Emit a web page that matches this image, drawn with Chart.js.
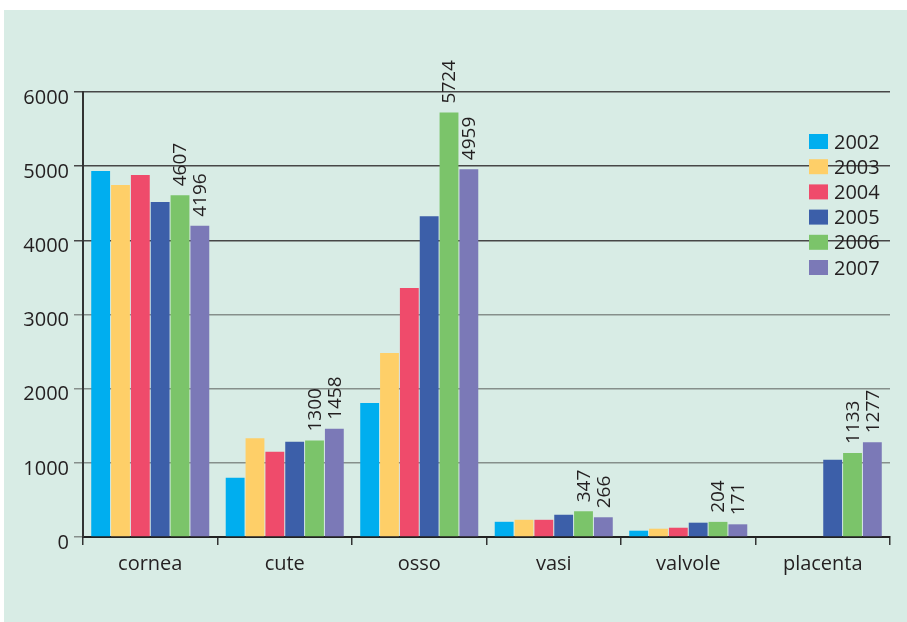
<!DOCTYPE html>
<html>
<head>
<meta charset="utf-8">
<script src="https://cdn.jsdelivr.net/npm/chart.js@4"></script>
<style>
  html, body { margin: 0; padding: 0; background: #fff; }
  #wrap { width: 907px; height: 622px; position: relative; }
</style>
</head>
<body>
<div id="wrap"><canvas id="chart"></canvas></div>
<script>
// categorie e serie
var categories = ["cornea", "cute", "osso", "vasi", "valvole", "placenta"];
var years = ["2002", "2003", "2004", "2005", "2006", "2007"];
var v2002 = [4935, 800, 1806, 205, 85, null];
var v2003 = [4746, 1330, 2480, 232, 112, null];
var v2004 = [4880, 1150, 3356, 232, 125, null];
var v2005 = [4517, 1285, 4326, 300, 193, 1040];
var v2006 = [4607, 1300, 5724, 347, 204, 1133];
var v2007 = [4196, 1458, 4959, 266, 171, 1277];
var yTicks = [0, 1000, 2000, 3000, 4000, 5000, 6000];
var colors = ["#00aeef", "#fecf68", "#ef4b6b", "#3c5fa9", "#7bc46a", "#7b79b7"];
var labelled = [4, 5]; // serie con etichette (2006, 2007)

var FONT = "'Open Sans', 'Noto Sans', sans-serif";
var TEXT = "#231f20";

var series = [v2002, v2003, v2004, v2005, v2006, v2007];

// sfondo
var bgPlugin = {
  id: "bg",
  beforeDraw: function (chart) {
    var ctx = chart.ctx;
    ctx.save();
    ctx.fillStyle = "#ffffff";
    ctx.fillRect(0, 0, chart.width, chart.height);
    ctx.fillStyle = "#d8ece5";
    ctx.fillRect(4, 10, chart.width - 4, chart.height - 10);
    ctx.restore();
  },
};

// etichette verticali sopra le barre
var valuePlugin = {
  id: "values",
  afterDatasetsDraw: function (chart) {
    var ctx = chart.ctx;
    ctx.save();
    ctx.fillStyle = TEXT;
    ctx.font = "19px " + FONT;
    ctx.textAlign = "left";
    ctx.textBaseline = "middle";
    labelled.forEach(function (di) {
      var meta = chart.getDatasetMeta(di);
      meta.data.forEach(function (bar, i) {
        var v = chart.data.datasets[di].data[i];
        if (v == null) return;
        ctx.save();
        ctx.translate(bar.x + 1, bar.y - 9);
        ctx.rotate(-Math.PI / 2);
        ctx.fillText(String(v), 0, 0);
        ctx.restore();
      });
    });
    ctx.restore();
  },
};

// legenda dentro l'area del grafico
var legendPlugin = {
  id: "legendBox",
  afterDraw: function (chart) {
    var ctx = chart.ctx;
    ctx.save();
    ctx.font = "20px " + FONT;
    ctx.textAlign = "left";
    ctx.textBaseline = "alphabetic";
    chart.data.datasets.forEach(function (ds, i) {
      var y = 134 + i * 25.2;
      ctx.fillStyle = ds.backgroundColor;
      ctx.fillRect(809, y, 19, 15);
      ctx.fillStyle = TEXT;
      ctx.fillText(ds.label, 834, y + 14.5);
    });
    ctx.restore();
  },
};

var datasets = years.map(function (y, i) {
  return {
    label: y,
    data: series[i],
    backgroundColor: colors[i],
    borderWidth: 0,
    categoryPercentage: 0.885,
    barPercentage: 0.95,
  };
});

new Chart(document.getElementById("chart").getContext("2d"), {
  type: "bar",
  data: { labels: categories, datasets: datasets },
  plugins: [bgPlugin, valuePlugin, legendPlugin],
  options: {
    responsive: true,
    maintainAspectRatio: false,
    animation: false,
    layout: { padding: { top: 92, right: 17, bottom: 0, left: 0 } },
    plugins: { legend: { display: false }, tooltip: { enabled: false } },
    scales: {
      x: {
        afterFit: function (s) { s.height = 85; },
        grid: {
          offset: true,
          drawOnChartArea: false,
          tickLength: 8,
          lineWidth: 1.5,
          color: function (c) { return c.index === 6 ? "rgba(0,0,0,0)" : "#333"; },
        },
        border: { color: "#222", width: 2 },
        ticks: { color: TEXT, font: { family: FONT, size: 20 }, padding: 7 },
      },
      y: {
        min: 0,
        max: 6000,
        afterFit: function (s) { s.width = 83; },
        afterBuildTicks: function (s) {
          s.ticks = yTicks.map(function (v) { return { value: v }; });
        },
        grid: {
          tickLength: 9,
          lineWidth: 1.5,
          color: function (c) {
            var v = c.tick ? c.tick.value : 0;
            return v >= 4000 ? "#474747" : "#868f8b";
          },
        },
        border: { color: "#333", width: 2 },
        ticks: {
          color: TEXT,
          font: { family: FONT, size: 20 },
          padding: 5,
          labelOffset: 6,
          callback: function (v) { return String(v); },
        },
      },
    },
  },
});
</script>
</body>
</html>
